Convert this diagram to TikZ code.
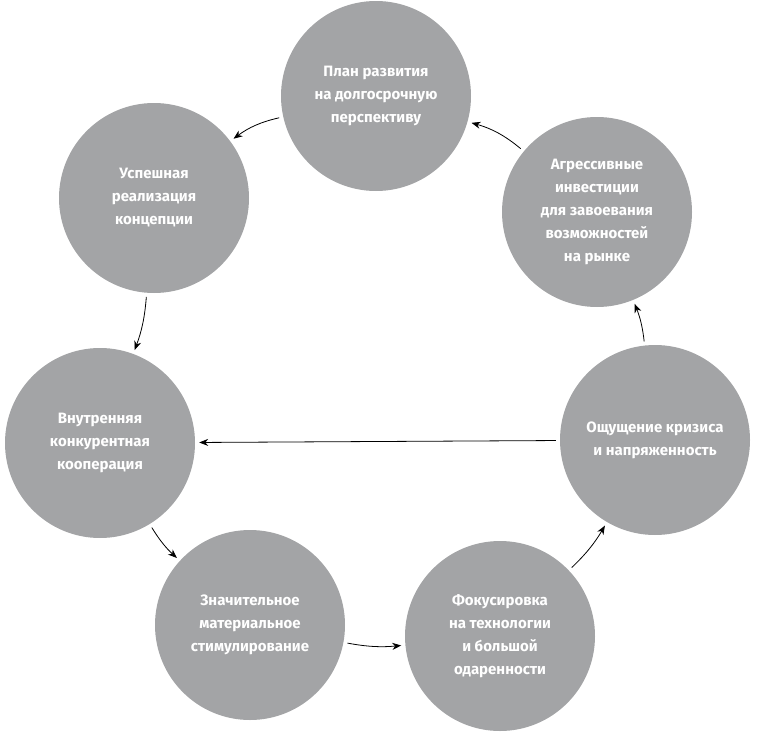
\documentclass[tikz,border=0pt]{standalone}
\usepackage{fontspec}
\setmainfont{Fira Sans}
\usetikzlibrary{arrows.meta}
\definecolor{cg}{HTML}{A3A4A6}
\begin{document}
\begin{tikzpicture}[x=1pt,y=-1pt,
  c/.style={circle,fill=cg,minimum size=190pt,inner sep=0pt,align=center,text=white,
    font=\bfseries\fontsize{15}{23}\selectfont},
  a/.style={-{Stealth[length=9pt,width=7pt]},thick,shorten >=4pt,shorten <=4pt}]
\useasboundingbox (0,0) rectangle (758,736);
\node[c] (p) at (376,96) {План развития\\на долгосрочную\\перспективу};
\node[c] (g) at (597,212) {Агрессивные\\инвестиции\\для завоевания\\возможностей\\на рынке};
\node[c] (k) at (655,440) {Ощущение кризиса\\и напряженность};
\node[c] (f) at (500,636) {Фокусировка\\на технологии\\и большой\\одаренности};
\node[c] (m) at (250,625) {Значительное\\материальное\\стимулирование};
\node[c] (i) at (100,443) {Внутренняя\\конкурентная\\кооперация};
\node[c] (s) at (154,198) {Успешная\\реализация\\концепции};
\draw[a] (p) to[bend right=12] (s);
\draw[a] (s) to[bend left=8] (i);
\draw[a] (i) to[bend right=8] (m);
\draw[a] (m) to[bend right=8] (f);
\draw[a] (f) to[bend right=8] (k);
\draw[a] (k) to[bend right=8] (g);
\draw[a] (g) to[bend right=12] (p);
\draw[a] (k) -- (i);
\end{tikzpicture}
\end{document}
